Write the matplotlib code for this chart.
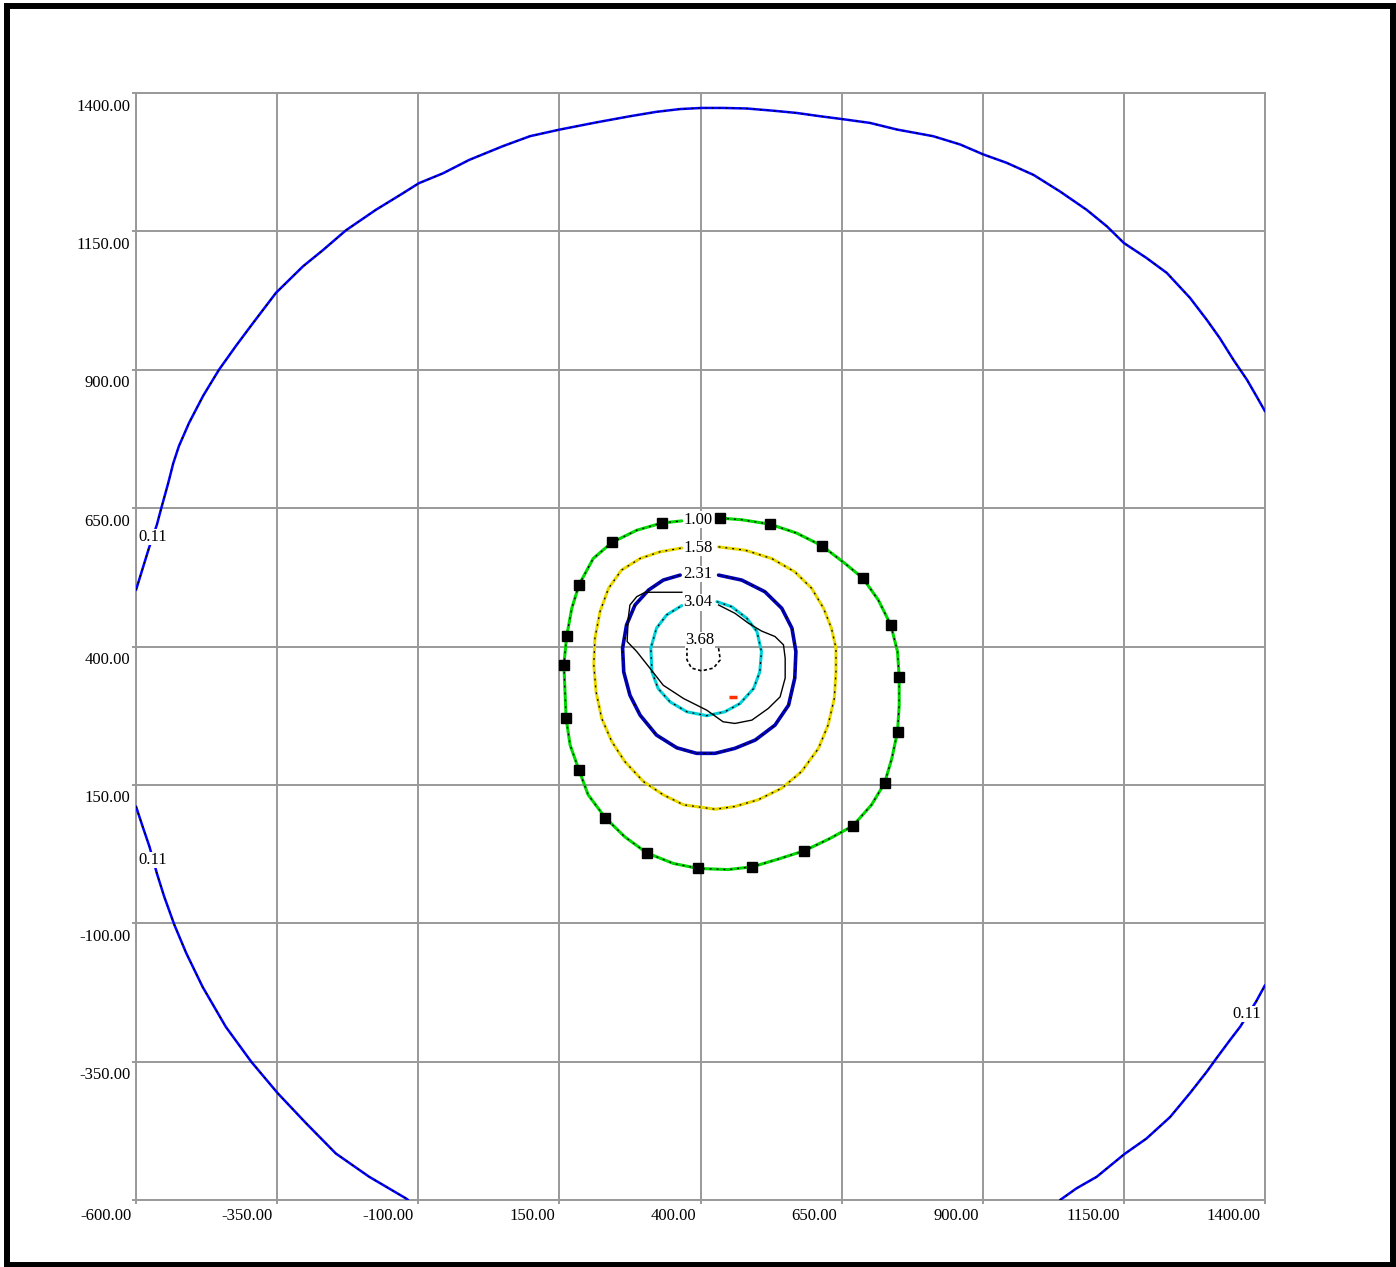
import numpy as np
import matplotlib.pyplot as plt
from matplotlib.patches import Rectangle

# contour 0.11 (outer), three pieces clipped by the plot frame
c011_top_x = [-600, -577, -563, -556, -543, -534, -524, -506, -481, -453, -423, -393, -352, -304,
              -269, -228, -175, -127, -99, -56, -10, 50, 98, 151, 216, 275, 322, 364, 402, 440,
              482, 529, 570, 612, 650, 700, 748, 812, 860, 901, 942, 990, 1037, 1084, 1120, 1150,
              1190, 1226, 1267, 1297, 1320, 1344, 1368, 1385, 1400]
c011_top_y = [502, 578, 620, 647, 695, 731, 762, 804, 853, 900, 943, 984, 1039, 1087,
              1116, 1152, 1189, 1219, 1237, 1255, 1279, 1304, 1322, 1334, 1347, 1358, 1366, 1371, 1373, 1373,
              1372, 1368, 1364, 1358, 1353, 1346, 1334, 1322, 1307, 1289, 1274, 1252, 1222, 1189, 1159, 1129,
              1102, 1075, 1030, 990, 957, 918, 882, 852, 825]
c011_bl_x = [-600, -588, -576, -563, -550, -532, -511, -482, -441, -396, -349, -299, -246, -187, -122, -118]
c011_bl_y = [111, 74, 38, -10, -52, -103, -154, -215, -287, -350, -407, -461, -516, -558, -597, -600]
c011_br_x = [1037, 1066, 1102, 1151, 1190, 1232, 1267, 1297, 1314, 1338, 1356, 1384, 1400]
c011_br_y = [-600, -579, -558, -517, -489, -450, -407, -368, -344, -311, -287, -242, -212]

# contour 1.00 (green)
c100_x = [435, 473, 523, 570, 615, 656, 688, 715, 737, 749, 752, 752, 749, 739, 726, 703, 670, 629,
          584, 538, 492, 449, 396, 352, 305, 266, 231, 201, 185, 169, 162, 160, 158, 163, 172, 185,
          210, 243, 287, 331, 367]
c100_y = [632, 629, 621, 605, 582, 550, 523, 484, 439, 391, 344, 294, 246, 198, 153, 114, 76, 53,
          31, 16, 2, -3, -1, 8, 27, 56, 91, 132, 176, 222, 270, 318, 367, 419, 469, 512,
          559, 588, 610, 623, 627]

# measured points (black squares)
pts_x = [435, 523, 615, 688, 737, 752, 749, 726, 670, 584, 492, 396, 305, 231, 185, 162, 158, 163, 185, 243, 331]
pts_y = [632, 621, 582, 523, 439, 344, 246, 153, 76, 31, 2, -1, 27, 91, 176, 270, 367, 419, 512, 588, 623]

c158_x = [432, 479, 526, 567, 597, 618, 632, 640, 640, 637, 626, 609, 579, 544, 502, 461, 426,
          370, 334, 299, 266, 243, 225, 215, 211, 213, 222, 237, 260, 293, 328, 367]
c158_y = [580, 574, 559, 535, 505, 469, 433, 397, 354, 306, 258, 216, 174, 144, 123, 111, 106,
          114, 132, 156, 192, 228, 270, 318, 367, 415, 463, 505, 538, 559, 571, 578]

c231_x = [432, 473, 514, 544, 562, 569, 567, 556, 532, 497, 461, 426, 393, 358, 322, 293, 275,
          264, 262, 269, 284, 308, 334, 364]
c231_y = [529, 520, 499, 469, 433, 391, 343, 294, 258, 231, 216, 207, 207, 217, 240, 276, 312,
          354, 397, 439, 475, 502, 520, 529]

c304_x = [429, 455, 482, 500, 508, 505, 494, 470, 443, 411, 376, 346, 325, 314, 312, 322, 340, 367]
c304_y = [481, 472, 451, 427, 391, 354, 324, 297, 282, 275, 282, 300, 324, 354, 397, 433, 457, 474]

# thin black contour
cb_x = [432, 461, 485, 508, 532, 547, 550, 550, 541, 520, 491, 461, 440, 411, 370, 334, 311, 287,
        270, 272, 275, 287, 302, 367]
cb_y = [475, 460, 442, 428, 418, 403, 379, 343, 309, 288, 267, 261, 264, 285, 306, 330, 360, 391,
        409, 451, 475, 490, 498, 498]

c368_x = [432, 435, 423, 402, 384, 376, 376]
c368_y = [397, 376, 361, 356, 361, 376, 397]

src_x, src_y = 457, 309

labels = ["1.00", "1.58", "2.31", "3.04", "3.68"]
label_x = [396, 396, 396, 396, 399]
label_y = [629, 578, 531, 480, 412]
outer_label = "0.11"
outer_lx = [-570, -570, 1368]
outer_ly = [598, 14, -264]

ticks = [-600, -350, -100, 150, 400, 650, 900, 1150, 1400]

font = ['Liberation Serif', 'DejaVu Serif']
fs = 12

fig = plt.figure(figsize=(13.96, 12.67), dpi=100)
ax = fig.add_axes([136 / 1396, 67 / 1267, 1129 / 1396, 1107 / 1267])
ax.set_xlim(-600, 1400)
ax.set_ylim(-600, 1400)
ax.set_xticks(ticks)
ax.set_yticks(ticks)
ax.set_xticklabels([])
ax.set_yticklabels([])
ax.tick_params(length=3, color='#999999', width=1.4, direction='out')
ax.grid(True, color='#999999', lw=1.4, zorder=0)
ax.set_axisbelow(True)
for s in ax.spines.values():
    s.set_color('#999999')
    s.set_linewidth(1.4)

for t in ticks:
    if t != ticks[0]:
        ax.annotate(f"{t:.2f}", xy=(0, t), xycoords=('axes fraction', 'data'), xytext=(-4, -4),
                    textcoords='offset points', ha='right', va='top', fontsize=fs, family=font)
    ax.annotate(f"{t:.2f}", xy=(t, 0), xycoords=('data', 'axes fraction'), xytext=(-3, -6),
                textcoords='offset points', ha='right', va='top', fontsize=fs, family=font)


def speckle(x, y, color, lw=2.2, closed=False):
    x = list(x)
    y = list(y)
    if closed:
        x = x + x[:1]
        y = y + y[:1]
    ax.plot(x, y, color=color, lw=lw, zorder=3, solid_joinstyle='round', solid_capstyle='round')
    ax.plot(x, y, color='black', lw=0.9, ls=(0, (1.5, 4)), zorder=3.1)


speckle(c011_top_x, c011_top_y, '#0000ff', lw=1.8)
speckle(c011_bl_x, c011_bl_y, '#0000ff', lw=1.8)
speckle(c011_br_x, c011_br_y, '#0000ff', lw=1.8)
speckle(c100_x, c100_y, '#00d800')
speckle(c158_x, c158_y, '#e8d800')
speckle(c231_x, c231_y, '#0000b4', lw=2.6)
speckle(c304_x, c304_y, '#00d0d8')
ax.plot(cb_x, cb_y, color='black', lw=1, zorder=3.2)
ax.plot(c368_x, c368_y, color='black', lw=1.2, ls=(0, (2, 1.5)), zorder=3.2)
ax.plot(pts_x, pts_y, ls='none', marker='s', ms=7, color='black', zorder=4)
ax.plot([src_x], [src_y], marker='_', ms=6, mew=2.5, color='#ff3000', zorder=4)

for s, lx, ly in zip(labels, label_x, label_y):
    ax.text(lx, ly, s, ha='center', va='center', fontsize=fs, family=font, zorder=5,
            bbox=dict(fc='white', ec='none', pad=0.3))
for lx, ly in zip(outer_lx, outer_ly):
    ax.text(lx, ly, outer_label, ha='center', va='center', fontsize=fs, family=font, zorder=5,
            bbox=dict(fc='white', ec='none', pad=0.3))

fig.patches.append(Rectangle((6.5 / 1396, 2.5 / 1267), 1386.5 / 1396, 1258.5 / 1267,
                             transform=fig.transFigure, fill=False, ec='black', lw=4.3))

fig.savefig("out.png", dpi=100)
